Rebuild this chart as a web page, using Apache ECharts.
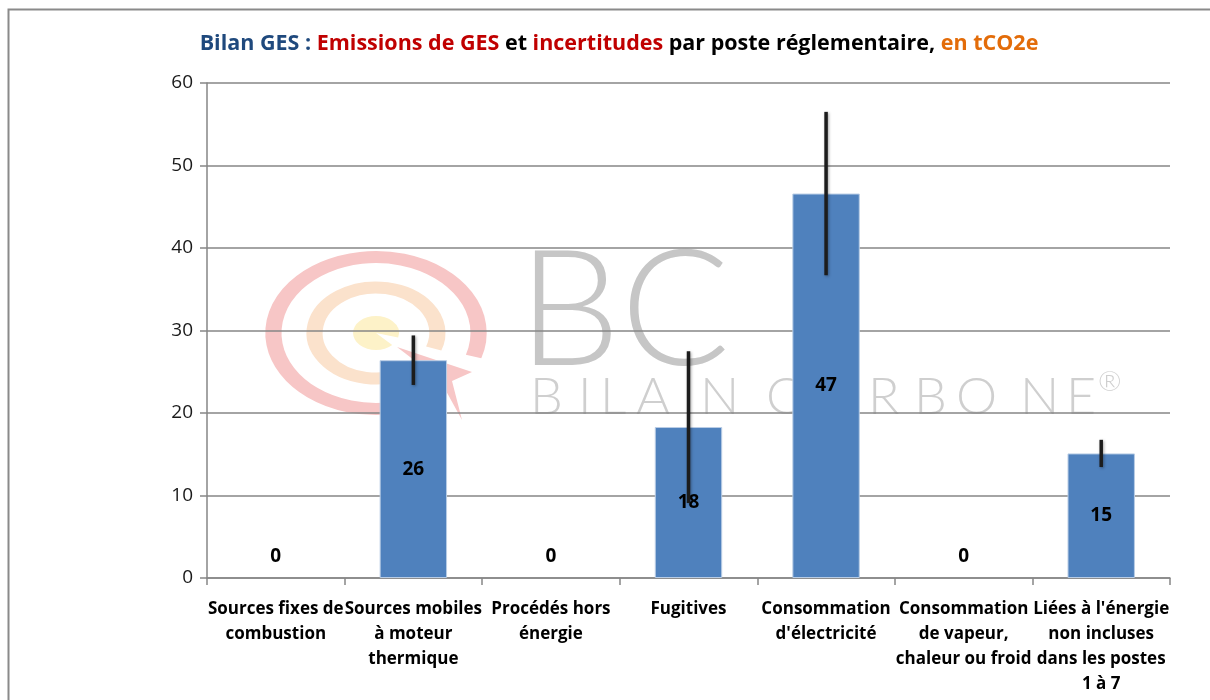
<!DOCTYPE html>
<html>
<head>
<meta charset="utf-8">
<script src="https://cdn.jsdelivr.net/npm/echarts@6/dist/echarts.min.js"></script>
<style>
html,body{margin:0;padding:0;background:#fff;}
#chart{width:1210px;height:700px;}
</style>
</head>
<body>
<div id="chart"></div>
<script>
// ---- data ----
var categories = [
  "Sources fixes de\ncombustion",
  "Sources mobiles\nà moteur\nthermique",
  "Procédés hors\nénergie",
  "Fugitives",
  "Consommation\nd'électricité",
  "Consommation\nde vapeur,\nchaleur ou froid",
  "Liées à l'énergie\nnon incluses\ndans les postes\n1 à 7"
];
var emissions = [0, 26.4, 0, 18.3, 46.6, 0, 15.1];
var uncertainty = [0, 3.0, 0, 9.2, 9.9, 0, 1.65];
var yTicks = { min: 0, max: 60, interval: 10 };

var FONT = "'Open Sans','Liberation Sans',sans-serif";

var chart = echarts.init(document.getElementById('chart'), null, {renderer: 'canvas'});

var barData = emissions.map(function (v) {
  var item = { value: v };
  if (v === 0) {
    item.label = { position: 'top', distance: 12 };
    item.itemStyle = { borderWidth: 0 };
  }
  return item;
});

var errData = emissions.map(function (v, i) {
  return [i, v - uncertainty[i], v + uncertainty[i]];
});

// watermark letters (decoration)
var wmLetters = [
  ['B', 530], ['I', 578], ['L', 600], ['A', 636], ['N', 700],
  ['C', 766], ['A', 826], ['R', 868], ['B', 914], ['O', 956],
  ['N', 1020], ['E', 1066]
];
var wmElems = wmLetters.map(function (p) {
  return {
    type: 'text', x: p[1], y: 397, z: -10, silent: true,
    style: { text: p[0], fill: '#cfcfcf', font: "300 52px Lato, 'Open Sans', sans-serif", textVerticalAlign: 'middle' }
  };
});
wmElems.push({
  type: 'text', x: 1098, y: 382, z: -10, silent: true,
  style: { text: '®', fill: '#cfcfcf', font: "300 28px Lato, sans-serif", textVerticalAlign: 'middle' }
});
wmElems.push({
  type: 'text', x: 518, y: 313, z: -10, silent: true,
  style: { text: 'BC', fill: '#c6c6c6', font: "300 162px Lato, 'Open Sans', sans-serif", textVerticalAlign: 'middle' }
});
wmElems.push({
  type: 'group', x: 376, y: 333, scaleX: 1.35, z: -10, silent: true,
  children: [
    { type: 'arc', z: -10, shape: { cx: 0, cy: 0, r: 76, startAngle: 60 * Math.PI / 180, endAngle: (360 + 18) * Math.PI / 180 },
      style: { stroke: '#f7c6c6', lineWidth: 12, fill: null } },
    { type: 'arc', z: -10, shape: { cx: 0, cy: 0, r: 45.5, startAngle: 55 * Math.PI / 180, endAngle: (360 + 20) * Math.PI / 180 },
      style: { stroke: '#fbe2cc', lineWidth: 12, fill: null } },
    { type: 'sector', z: -10, shape: { cx: 0, cy: 0, r: 17, startAngle: 45 * Math.PI / 180, endAngle: (360 + 15) * Math.PI / 180 },
      style: { fill: '#fdf2c8' } }
  ]
});
wmElems.push({
  type: 'polygon', z: -10, silent: true,
  shape: { points: [[397, 347], [472, 372], [452, 381], [462, 420], [440, 380]] },
  style: { fill: '#f7c6c6' }
});
// outer frame
wmElems.push({
  type: 'rect', z: 100, silent: true,
  shape: { x: 8.5, y: 9.5, width: 1300, height: 800 },
  style: { stroke: '#8a8a8a', lineWidth: 2, fill: null }
});

var option = {
  backgroundColor: '#ffffff',
  animation: false,
  title: {
    left: 614, top: 28, textAlign: 'center',
    text: '{b|Bilan GES : }{r|Emissions de GES }{k|et }{r|incertitudes }{k|par poste réglementaire, }{o|en tCO2e}',
    textStyle: {
      rich: {
        b: { color: '#1f497d', fontWeight: 'bold', fontSize: 21.5, fontFamily: FONT },
        r: { color: '#c00000', fontWeight: 'bold', fontSize: 21.5, fontFamily: FONT },
        k: { color: '#000000', fontWeight: 'bold', fontSize: 21.5, fontFamily: FONT },
        o: { color: '#e36c09', fontWeight: 'bold', fontSize: 21.5, fontFamily: FONT }
      }
    }
  },
  graphic: wmElems,
  grid: { left: 207, right: 40, top: 83, bottom: 122, containLabel: false },
  xAxis: {
    type: 'category',
    data: categories,
    boundaryGap: true,
    axisLine: { lineStyle: { color: '#868686', width: 1.5 } },
    axisTick: { show: true, alignWithLabel: false, length: 7, lineStyle: { color: '#868686', width: 1.5 } },
    axisLabel: {
      interval: 0, margin: 19, color: '#000', fontWeight: 'bold', fontSize: 17,
      fontFamily: FONT, lineHeight: 25
    }
  },
  yAxis: {
    type: 'value',
    min: yTicks.min, max: yTicks.max, interval: yTicks.interval,
    axisLine: { show: true, lineStyle: { color: '#868686', width: 1.5 } },
    axisTick: { show: true, length: 7, lineStyle: { color: '#868686', width: 1.5 } },
    splitLine: { show: true, lineStyle: { color: '#868686', width: 1.5 } },
    axisLabel: { color: '#1a1a1a', fontSize: 19, fontFamily: FONT, margin: 14 }
  },
  series: [
    {
      type: 'bar',
      data: barData,
      barWidth: '49%',
      itemStyle: { color: '#4f81bd', borderColor: '#b9cde5', borderWidth: 1 },
      label: {
        show: true, position: 'inside', color: '#000', fontWeight: 'bold', fontSize: 19,
        fontFamily: FONT,
        formatter: function (p) { return Math.round(p.value); }
      },
      z: 2
    },
    {
      type: 'custom',
      data: errData,
      z: 3,
      renderItem: function (params, api) {
        var i = api.value(0);
        if (uncertainty[i] === 0) return null;
        var lo = api.coord([i, api.value(1)]);
        var hi = api.coord([i, api.value(2)]);
        return {
          type: 'line',
          shape: { x1: lo[0], y1: lo[1], x2: hi[0], y2: hi[1] },
          style: { stroke: '#1c1c1c', lineWidth: 3.5, shadowBlur: 3, shadowColor: 'rgba(0,0,0,0.35)', shadowOffsetX: 1, shadowOffsetY: 1 }
        };
      }
    }
  ]
};
chart.setOption(option);
</script>
</body>
</html>
